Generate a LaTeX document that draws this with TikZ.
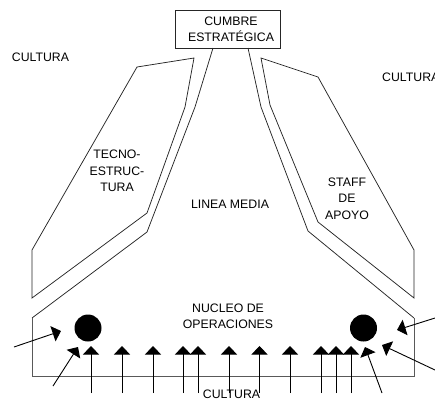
\documentclass[tikz,border=0pt]{standalone}
\usepackage{fontspec}
\setmainfont{Liberation Sans}
\usetikzlibrary{arrows.meta}
\tikzset{
  outline/.style={draw=black!85,line width=0.75pt,line join=miter},
  edgegray/.style={draw=black!65,line width=1pt},
  label/.style={font=\fontsize{12.3}{16.4}\selectfont,align=center,inner sep=0pt,text=black},
  flow/.style={draw=black,line width=0.9pt,-{Triangle[length=8.5pt,width=16pt]}},
  dot/.style={circle,fill=black,minimum size=27pt,inner sep=0pt}
}
\begin{document}
\begin{tikzpicture}[x=1pt,y=-1pt]
\useasboundingbox (0,0) rectangle (435,400);
% apex box
\draw[outline] (175,48) -- (175,10) -- (280,10) -- (280,48) -- cycle;
\node[label] (apex) at (231,29.5) {CUMBRE\\ESTRATÉGICA};
% technostructure
\draw[outline] (194,58) -- (137,67) -- (32,250) -- (32,298) -- (147,213) -- (185,107) -- cycle;
% support staff
\draw[outline] (261,58) -- (318,77) -- (414,250) -- (414,298) -- (318,222) -- (270,105) -- cycle;
% middle line + operating core outline
\draw[outline] (213,48) -- (195,107) -- (147,232) -- (32,318);
\draw[outline] (248,48) -- (261,107) -- (308,231) -- (414,318);
\draw[edgegray] (32,318) -- (32,376) -- (414,376) -- (414,318);
% labels
\node[label] (techno) at (117,171) {TECNO-\\ESTRUC-\\TURA};
\node[label] (staff) at (347,198.5) {STAFF\\DE\\APOYO};
\node[label] (middle) at (230,204) {LINEA MEDIA};
\node[label] (core) at (228,316.5) {NUCLEO DE\\OPERACIONES};
\node[label] (cultL) at (40.5,57.5) {CULTURA};
\node[label,anchor=west] (cultR) at (382,77) {CULTURA};
\node[label] (cultB) at (231.5,394.5) {CULTURA};
% dots
\node[dot] (dotL) at (88,328) {};
\node[dot] (dotR) at (363.5,328) {};
% vertical arrows
\foreach \i/\px in {a/91,b/122,c/153,d/183,e/198,f/229,g/259.5,h/290,i/321,j/336,k/351}{
  \coordinate (s\i) at (\px,393);
  \coordinate (t\i) at (\px,346);
  \draw[flow] (s\i) -- (t\i);
}
% diagonal arrows
\coordinate (s1) at (14,347);  \coordinate (t1) at (61,331);
\coordinate (s2) at (53,386);  \coordinate (t2) at (78,347);
\coordinate (s3) at (435,318); \coordinate (t3) at (397,330);
\coordinate (s4) at (435,370); \coordinate (t4) at (382,345);
\coordinate (s5) at (382,393); \coordinate (t5) at (365,347);
\foreach \n in {1,...,5}{\draw[flow] (s\n) -- (t\n);}
\end{tikzpicture}
\end{document}
